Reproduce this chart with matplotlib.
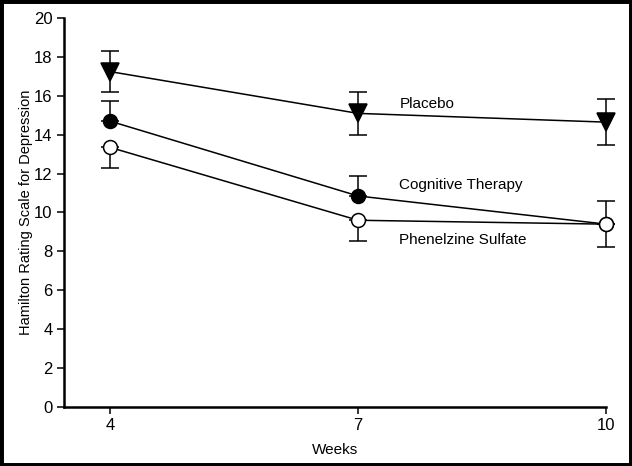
import matplotlib.pyplot as plt
from matplotlib.patches import Rectangle

# Data
weeks = [4, 7, 10]
placebo = [17.25, 15.1, 14.65]
placebo_err = [1.05, 1.1, 1.2]
cognitive = [14.7, 10.85, 9.4]
cognitive_err = [1.05, 1.05, 1.2]
phenelzine = [13.35, 9.6, 9.4]
phenelzine_err = [1.05, 1.05, 1.2]

plt.rcParams['font.family'] = ['Liberation Sans Narrow', 'Liberation Sans', 'DejaVu Sans']

fig = plt.figure(figsize=(6.32, 4.66), dpi=100)
ax = fig.add_axes([0.101, 0.127, 0.858, 0.834])

style = dict(color='black', linewidth=1.1, capsize=6.5, elinewidth=1.1,
             capthick=1.1, clip_on=False, markeredgewidth=1.1)

# Placebo: error bars both sides
ax.errorbar(weeks, placebo, yerr=placebo_err, marker='v', markersize=13,
            markerfacecolor='black', zorder=3, **style)
# Cognitive therapy: upper error only
ax.errorbar(weeks, cognitive, yerr=[[0, 0, 0], cognitive_err], marker='o',
            markersize=10, markerfacecolor='black', zorder=3, **style)
# Phenelzine: lower error only
ax.errorbar(weeks, phenelzine, yerr=[phenelzine_err, [0, 0, 0]], marker='o',
            markersize=10, markerfacecolor='white', zorder=4, **style)

ax.text(7.5, 15.6, 'Placebo', fontsize=11, va='center', ha='left')
ax.text(7.5, 11.4, 'Cognitive Therapy', fontsize=11, va='center', ha='left')
ax.text(7.5, 8.6, 'Phenelzine Sulfate', fontsize=11, va='center', ha='left')

ax.set_xlim(3.44, 10)
ax.set_ylim(0, 20)
ax.set_xticks(weeks)
ax.set_yticks(range(0, 21, 2))
ax.set_xlabel('Weeks', fontsize=11, labelpad=7)
ax.set_ylabel('Hamilton Rating Scale for Depression', fontsize=10.5, labelpad=1)

for s in ['top', 'right']:
    ax.spines[s].set_visible(False)
for s in ['left', 'bottom']:
    ax.spines[s].set_linewidth(1.8)
ax.tick_params(direction='out', length=5, width=1.1, labelsize=12, pad=3)

# black frame round the figure
fig.patches.append(Rectangle((0, 0), 1, 1, transform=fig.transFigure,
                             fill=False, edgecolor='black', linewidth=5))

fig.savefig('out.png', dpi=100)
